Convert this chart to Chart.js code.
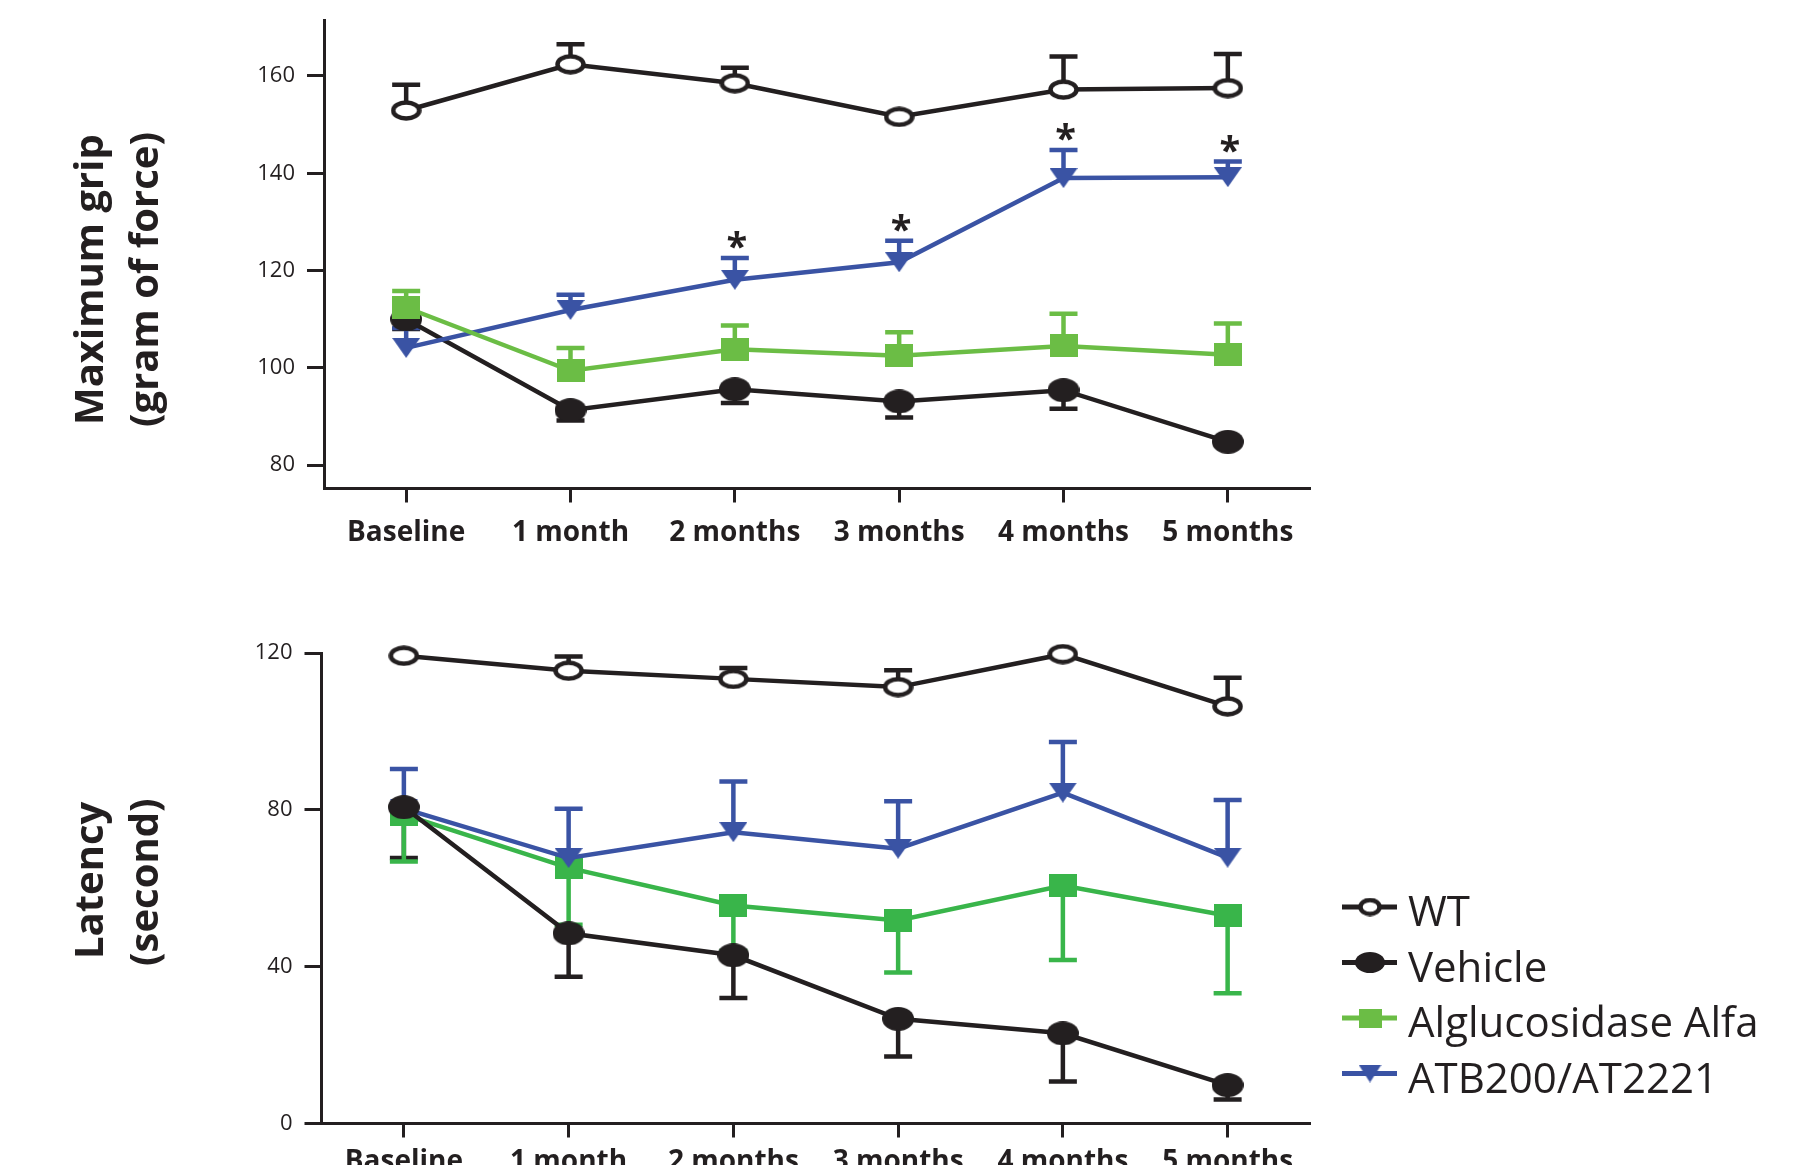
<!DOCTYPE html>
<html>
<head>
<meta charset="utf-8">
<script src="https://cdn.jsdelivr.net/npm/chart.js@4.4.0/dist/chart.umd.min.js"></script>
<style>
  body { margin: 0; background: #fff; width: 1794px; height: 1165px; overflow: hidden; position: relative; }
  canvas { position: absolute; left: 0; }
  #gripChart { top: 0; }
  #latencyChart { top: 600px; }
</style>
</head>
<body>
<canvas id="gripChart" width="1794" height="560"></canvas>
<canvas id="latencyChart" width="1794" height="565"></canvas>
<script>
// categories + values (means, one-sided SEM)
const categories = ['Baseline', '1 month', '2 months', '3 months', '4 months', '5 months'];
const seriesNames = ['WT', 'Vehicle', 'Alglucosidase Alfa', 'ATB200/AT2221'];

const gripTicks = [80, 100, 120, 140, 160];
const gripWT = [152.9, 162.4, 158.5, 151.6, 157.2, 157.5];
const gripWTErr = [5.3, 4.1, 3.2, 0, 6.8, 7.0];
const gripVehicle = [110.0, 91.3, 95.6, 93.1, 95.4, 84.8];
const gripVehicleErr = [2.0, 2.1, 2.8, 3.3, 3.8, 0];
const gripAlglu = [112.4, 99.4, 103.8, 102.5, 104.5, 102.7];
const gripAlgluErr = [3.4, 4.7, 4.9, 4.8, 6.6, 6.4];
const gripATB = [104.1, 111.9, 118.1, 121.7, 139.0, 139.2];
const gripATBErr = [4.1, 3.1, 4.5, 4.4, 5.8, 3.2];
const gripStars = [false, false, true, true, true, true];

const latencyTicks = [0, 40, 80, 120];
const latWT = [119.3, 115.5, 113.4, 111.3, 119.7, 106.4];
const latWTErr = [0, 3.6, 2.8, 4.3, 0, 7.3];
const latVehicle = [80.7, 48.5, 42.9, 26.7, 23.0, 9.8];
const latVehicleErr = [13.0, 11.1, 10.9, 9.6, 12.3, 3.7];
const latAlglu = [78.8, 65.2, 55.6, 51.8, 60.7, 53.0];
const latAlgluErr = [12.0, 14.5, 11.6, 13.3, 19.0, 19.8];
const latATB = [80.3, 67.7, 74.3, 70.1, 84.4, 67.8];
const latATBErr = [10.1, 12.6, 12.9, 12.1, 12.9, 14.7];

const INK = '#231f20';
const GREEN_LIGHT = '#6bbd45';
const GREEN = '#39b54a';
const BLUE = '#3a53a4';
const FONT = "'Open Sans', 'Liberation Sans', sans-serif";
const LINE_W = 4.5;

function makeMarker(shape, color, w, h) {
    const c = document.createElement('canvas');
    c.width = w; c.height = h;
    const g = c.getContext('2d');
    g.fillStyle = color;
    g.strokeStyle = color;
    g.beginPath();
    if (shape === 'ring') {
        g.lineWidth = 4.5;
        g.fillStyle = '#fff';
        g.ellipse(w / 2, h / 2, w / 2 - 2.5, h / 2 - 2.5, 0, 0, Math.PI * 2);
        g.fill(); g.stroke();
    } else if (shape === 'dot') {
        g.ellipse(w / 2, h / 2, w / 2, h / 2, 0, 0, Math.PI * 2);
        g.fill();
    } else if (shape === 'square') {
        g.rect(0, 0, w, h);
        g.fill();
    } else {
        g.moveTo(0, 0); g.lineTo(w, 0); g.lineTo(w / 2, h); g.closePath();
        g.fill();
    }
    return c;
}

function series(label, data, err, dir, color, marker, order) {
    return {
        label, data, err, dir, order,
        borderColor: color, backgroundColor: color,
        borderWidth: LINE_W, tension: 0, fill: false, clip: false,
        pointStyle: marker, pointRadius: 12, pointHoverRadius: 12
    };
}

const errorBars = {
    id: 'errorBars',
    beforeDatasetsDraw(chart) {
        const ctx = chart.ctx, y = chart.scales.y;
        chart.data.datasets.forEach((ds, i) => {
            const meta = chart.getDatasetMeta(i);
            ctx.save();
            ctx.strokeStyle = ds.borderColor;
            ctx.lineWidth = LINE_W;
            meta.data.forEach((pt, j) => {
                const e = ds.err[j];
                if (!e) return;
                const yEnd = y.getPixelForValue(ds.data[j] + ds.dir * e);
                ctx.beginPath();
                ctx.moveTo(pt.x, pt.y);
                ctx.lineTo(pt.x, yEnd);
                ctx.moveTo(pt.x - 14, yEnd);
                ctx.lineTo(pt.x + 14, yEnd);
                ctx.stroke();
            });
            ctx.restore();
        });
    }
};

function axisTitle(lines) {
    return {
        id: 'axisTitle',
        afterDraw(chart) {
            const ctx = chart.ctx;
            ctx.save();
            ctx.fillStyle = INK;
            ctx.font = 'bold 40px ' + FONT;
            ctx.textAlign = 'left';
            ctx.textBaseline = 'alphabetic';
            lines.forEach(l => {
                ctx.save();
                ctx.translate(l.x, l.y);
                ctx.rotate(-Math.PI / 2);
                ctx.fillText(l.text, 0, 0);
                ctx.restore();
            });
            ctx.restore();
        }
    };
}

const stars = {
    id: 'stars',
    afterDatasetsDraw(chart) {
        const ctx = chart.ctx, y = chart.scales.y;
        const ds = chart.data.datasets[3];
        const meta = chart.getDatasetMeta(3);
        ctx.save();
        ctx.fillStyle = INK;
        ctx.font = 'bold 38px ' + FONT;
        ctx.textAlign = 'center';
        ctx.textBaseline = 'alphabetic';
        gripStars.forEach((s, j) => {
            if (!s) return;
            const top = y.getPixelForValue(ds.data[j] + ds.err[j]);
            ctx.fillText('*', meta.data[j].x + 2, top + 2);
        });
        ctx.restore();
    }
};

const legendItems = [
    { color: INK, marker: makeMarker('ring', INK, 24, 19) },
    { color: INK, marker: makeMarker('dot', INK, 30, 21) },
    { color: GREEN_LIGHT, marker: makeMarker('square', GREEN_LIGHT, 23, 19) },
    { color: BLUE, marker: makeMarker('tri', BLUE, 23, 18) }
];

const sideLegend = {
    id: 'sideLegend',
    afterDraw(chart) {
        const ctx = chart.ctx;
        ctx.save();
        ctx.font = '42px ' + FONT;
        ctx.textAlign = 'left';
        ctx.textBaseline = 'alphabetic';
        seriesNames.forEach((name, i) => {
            const it = legendItems[i];
            const yy = 307 + i * 55.5;
            ctx.strokeStyle = it.color;
            ctx.lineWidth = 5;
            ctx.beginPath();
            ctx.moveTo(1342, yy);
            ctx.lineTo(1397, yy);
            ctx.stroke();
            ctx.drawImage(it.marker, 1370 - it.marker.width / 2, yy - it.marker.height / 2);
            ctx.fillStyle = INK;
            ctx.fillText(name, 1408, yy + 19);
        });
        ctx.restore();
    }
};

function scalesFor(yMin, yMax, tickValues, yWidth, xHeight, labelPad) {
    return {
        x: {
            type: 'category',
            offset: true,
            afterFit: s => { s.height = xHeight; s.paddingLeft = 0; s.paddingRight = 0; },
            border: { display: true, color: INK, width: 3 },
            grid: { offset: false, drawOnChartArea: false, drawTicks: true, tickLength: 14, tickWidth: 3, tickColor: INK, color: INK },
            ticks: { color: INK, font: { family: FONT, size: 28, weight: 'bold' }, padding: labelPad, maxRotation: 0, autoSkip: false }
        },
        y: {
            min: yMin,
            max: yMax,
            afterBuildTicks: s => { s.ticks = tickValues.map(v => ({ value: v })); },
            afterFit: s => { s.width = yWidth; s.paddingTop = 0; s.paddingBottom = 0; },
            border: { display: true, color: INK, width: 3 },
            grid: { drawOnChartArea: false, drawTicks: true, tickLength: 17, tickWidth: 3, tickColor: INK, color: INK },
            ticks: { color: INK, font: { family: FONT, size: 22 }, padding: 12 }
        }
    };
}

new Chart(document.getElementById('gripChart').getContext('2d'), {
    type: 'line',
    data: {
        labels: categories,
        datasets: [
            series(seriesNames[0], gripWT, gripWTErr, 1, INK, makeMarker('ring', INK, 31, 21), 3),
            series(seriesNames[1], gripVehicle, gripVehicleErr, -1, INK, makeMarker('dot', INK, 32, 24), 2),
            series(seriesNames[2], gripAlglu, gripAlgluErr, 1, GREEN_LIGHT, makeMarker('square', GREEN_LIGHT, 28, 23), 0),
            series(seriesNames[3], gripATB, gripATBErr, 1, BLUE, makeMarker('tri', BLUE, 28, 20), 1)
        ]
    },
    options: {
        responsive: false,
        animation: false,
        events: [],
        layout: { padding: { left: 0, top: 20, right: 484, bottom: 0 } },
        plugins: { legend: { display: false }, tooltip: { enabled: false } },
        scales: scalesFor(75.2, 171.5, gripTicks, 324, 71.5, 14)
    },
    plugins: [errorBars, stars, axisTitle([
        { text: 'Maximum grip', x: 103, y: 425 },
        { text: '(gram of force)', x: 158, y: 427 }
    ])]
});

new Chart(document.getElementById('latencyChart').getContext('2d'), {
    type: 'line',
    data: {
        labels: categories,
        datasets: [
            series(seriesNames[0], latWT, latWTErr, 1, INK, makeMarker('ring', INK, 31, 21), 3),
            series(seriesNames[1], latVehicle, latVehicleErr, -1, INK, makeMarker('dot', INK, 32, 24), 0),
            series(seriesNames[2], latAlglu, latAlgluErr, -1, GREEN, makeMarker('square', GREEN, 28, 23), 2),
            series(seriesNames[3], latATB, latATBErr, 1, BLUE, makeMarker('tri', BLUE, 28, 20), 1)
        ]
    },
    options: {
        responsive: false,
        animation: false,
        events: [],
        layout: { padding: { left: 0, top: 53, right: 484, bottom: 0 } },
        plugins: { legend: { display: false }, tooltip: { enabled: false } },
        scales: scalesFor(0, 120, latencyTicks, 321.5, 41.5, 8)
    },
    plugins: [errorBars, sideLegend, axisTitle([
        { text: 'Latency', x: 103, y: 359 },
        { text: '(second)', x: 158, y: 366 }
    ])]
});
</script>
</body>
</html>
